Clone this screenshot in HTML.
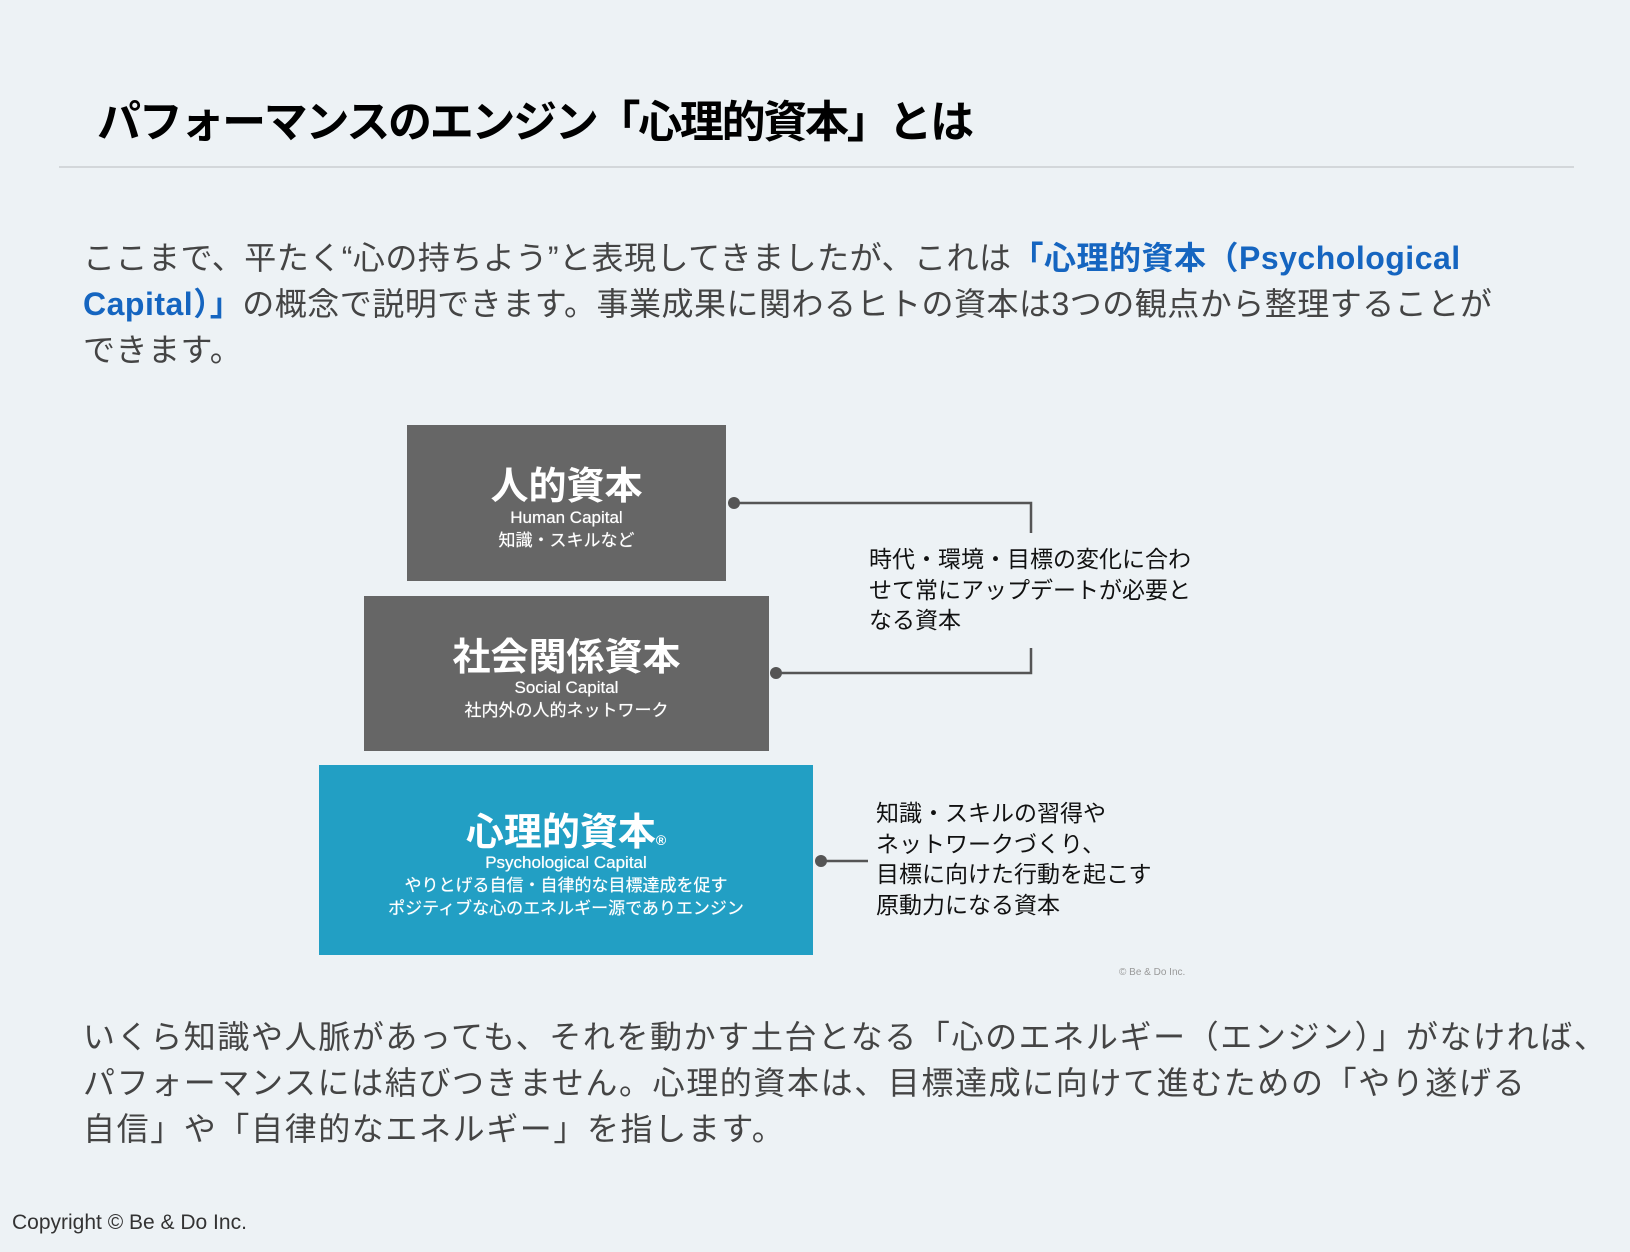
<!DOCTYPE html>
<html><head><meta charset="utf-8"><style>
body{margin:0;width:1630px;height:1252px;background:#edf2f5;position:relative;overflow:hidden;font-family:"Liberation Sans","Noto Sans CJK JP",sans-serif;}
.a{position:absolute;white-space:nowrap;}
.t{left:97px;top:86px;font-size:44px;font-weight:bold;color:#000;letter-spacing:-2.3px;}
.p{left:83px;font-size:32px;color:#444;line-height:46px;}
.b{color:#1565c0;font-weight:bold;}
.box{position:absolute;color:#fff;text-align:center;}
.s{position:absolute;width:100%;font-size:17px;line-height:23px;text-shadow:0 0 0.6px #fff;}
.r{font-size:23px;color:#111;line-height:30.5px;}
</style></head><body>
<div class="a t">パフォーマンスのエンジン「心理的資本」とは</div>
<div class="a" style="left:59px;top:166px;width:1515px;height:2px;background:#d3d7da"></div>
<div class="a p" style="top:235px;letter-spacing:0.5px">ここまで、平たく“心の持ちよう”と表現してきましたが、これは<span class="b">「心理的資本（Psychological<br>Capital）」</span>の概念で説明できます。事業成果に関わるヒトの資本は3つの観点から整理することが<br>できます。</div>

<div class="box" style="left:407px;top:425px;width:319px;height:156px;background:#666">
<div style="position:absolute;top:30px;width:100%;font-size:38px;font-weight:bold">人的資本</div>
<div class="s" style="top:81px">Human Capital<br>知識・スキルなど</div></div>
<div class="box" style="left:364px;top:596px;width:405px;height:155px;background:#666">
<div style="position:absolute;top:30px;width:100%;font-size:38px;font-weight:bold">社会関係資本</div>
<div class="s" style="top:80px">Social Capital<br>社内外の人的ネットワーク</div></div>
<div class="box" style="left:319px;top:765px;width:494px;height:190px;background:#229fc4">
<div style="position:absolute;top:36px;width:100%;font-size:38px;font-weight:bold">心理的資本<span style="font-size:14px">®</span></div>
<div class="s" style="top:86px">Psychological Capital<br>やりとげる自信・自律的な目標達成を促す<br>ポジティブな心のエネルギー源でありエンジン</div></div>

<svg class="a" style="left:0;top:0" width="1630" height="1252">
<g stroke="#555" stroke-width="2.5" fill="none">
<polyline points="734,503 1031,503 1031,533"/>
<polyline points="776,673 1031,673 1031,648"/>
<line x1="821" y1="861" x2="868" y2="861"/>
</g>
<g fill="#555"><circle cx="734" cy="503" r="6"/><circle cx="776" cy="673" r="6"/><circle cx="821" cy="861" r="6"/></g>
</svg>
<div class="a r" style="left:869px;top:544px">時代・環境・目標の変化に合わ<br>せて常にアップデートが必要と<br>なる資本</div>
<div class="a r" style="left:876px;top:798px">知識・スキルの習得や<br>ネットワークづくり、<br>目標に向けた行動を起こす<br>原動力になる資本</div>
<div class="a" style="left:1119px;top:967px;font-size:10px;color:#999">© Be &amp; Do Inc.</div>
<div class="a p" style="top:1014px;letter-spacing:1.6px">いくら知識や人脈があっても、それを動かす土台となる「心のエネルギー（エンジン）」がなければ、<br>パフォーマンスには結びつきません。心理的資本は、目標達成に向けて進むための「やり遂げる<br>自信」や「自律的なエネルギー」を指します。</div>
<div class="a" style="left:12px;top:1211px;font-size:21px;color:#333">Copyright © Be &amp; Do Inc.</div>
</body></html>
